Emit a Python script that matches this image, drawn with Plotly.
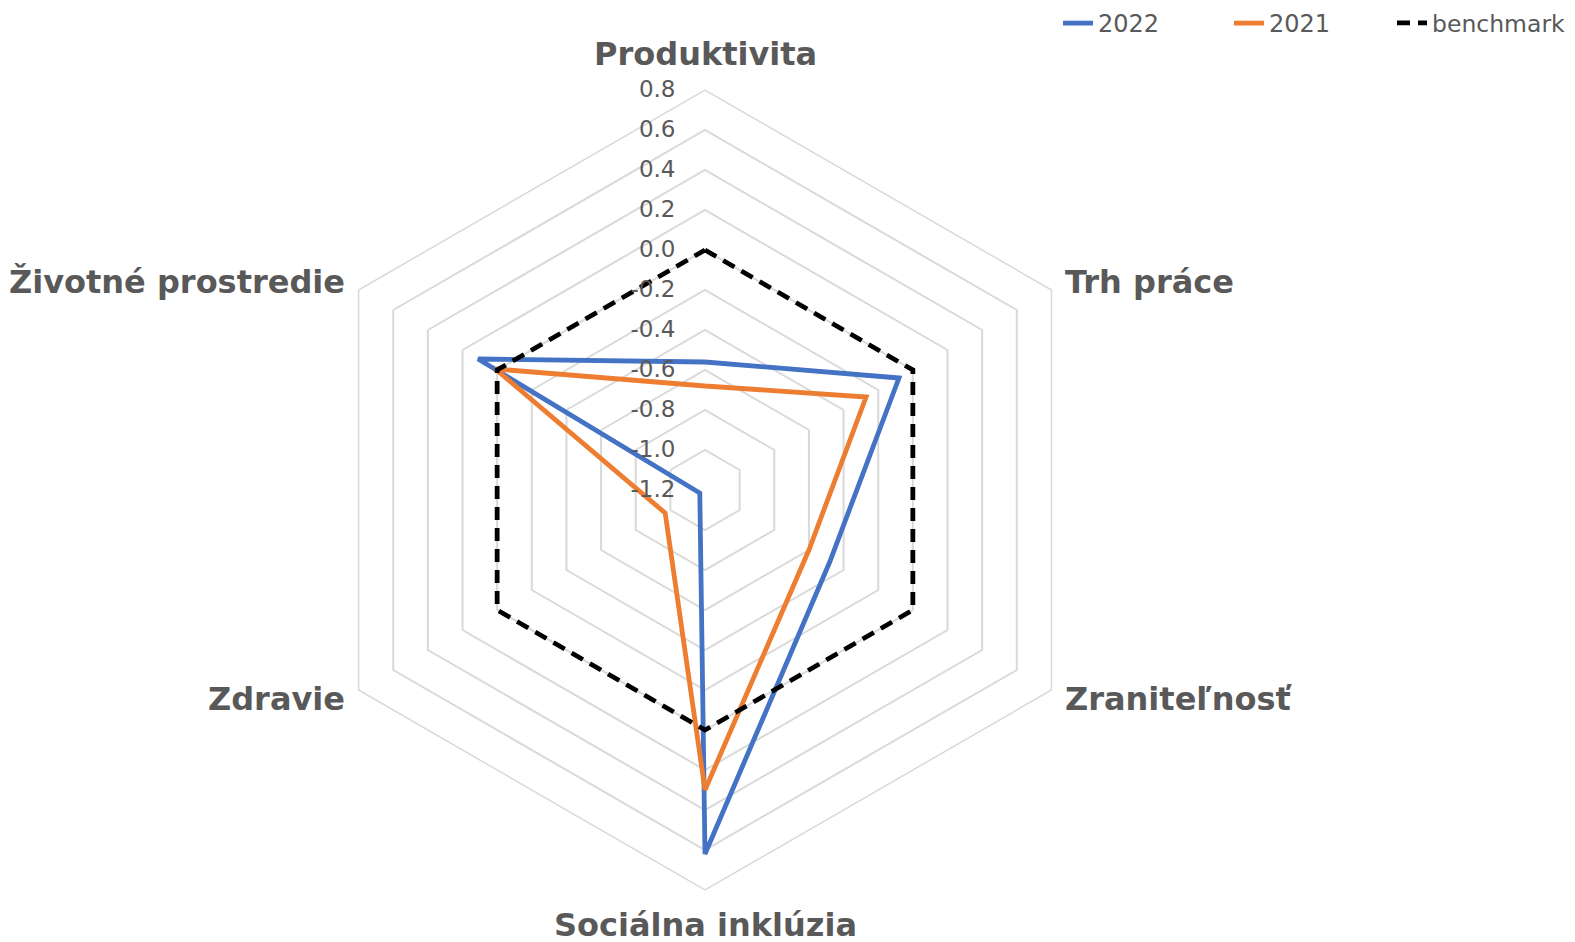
import math
import plotly.graph_objects as go

categories = ["Produktivita", "Trh práce", "Zraniteľnosť", "Sociálna inklúzia", "Zdravie", "Životné prostredie"]
values_2022 = [-0.56, -0.08, -0.48, 0.62, -1.17, 0.11]
values_2021 = [-0.68, -0.27, -0.60, 0.30, -0.97, 0.01]
values_benchmark = [0.0, 0.0, 0.0, 0.0, 0.0, 0.0]
radial_ticks = [-1.2, -1.0, -0.8, -0.6, -0.4, -0.2, 0.0, 0.2, 0.4, 0.6, 0.8]
radial_tick_labels = ["-1.2", "-1.0", "-0.8", "-0.6", "-0.4", "-0.2", "0.0", "0.2", "0.4", "0.6", "0.8"]

FONT = "DejaVu Sans"
GRAY = "#595959"
GRID = "#d9d9d9"


def closed(seq):
    return list(seq) + [seq[0]]


fig = go.Figure()
series = [
    ("2022", values_2022, dict(color="#4472C4", width=4.8), "legend"),
    ("2021", values_2021, dict(color="#ED7D31", width=4.8), "legend"),
    ("benchmark", values_benchmark, dict(color="#000000", width=4.8, dash="13px,8px"), "legend2"),
]
for name, vals, line, lg in series:
    fig.add_trace(go.Scatterpolar(
        r=closed(vals), theta=closed(categories), mode="lines",
        name=name, line=line, hoverinfo="skip", legend=lg,
    ))

W, H = 1575, 942
OFF = 8  # page body margin offset
cx, cy, R = 705 - OFF, 490 - OFF, 400


def px(x):
    return x / W


def py(y):
    return 1 - y / H


# category label placement (layout only)
annotations = []
for i, cat in enumerate(categories):
    ang = math.radians(90 - 60 * i)
    vx = cx + R * math.cos(ang)
    vy = cy - R * math.sin(ang)
    if i == 0:
        x, y, xa = vx, vy - 36, "center"
    elif i == 3:
        x, y, xa = vx, vy + 35, "center"
    elif i in (1, 2):
        x, y, xa = vx + 12, vy + (-8 if i == 1 else 9), "left"
    else:
        x, y, xa = vx - 12, vy + (-8 if i == 5 else 9), "right"
    annotations.append(dict(
        text=cat, x=px(x), y=py(y), xref="paper", yref="paper",
        xanchor=xa, yanchor="middle", showarrow=False,
        font=dict(family=FONT, size=32, color=GRAY, weight="bold"),
    ))

fig.update_layout(
    width=W, height=H,
    margin=dict(l=0, r=0, t=0, b=0, autoexpand=False),
    paper_bgcolor="white", plot_bgcolor="white",
    font=dict(family=FONT, color=GRAY),
    showlegend=True,
    legend=dict(orientation="h", x=px(1058 - OFF), xanchor="left", y=py(-7), yanchor="top",
                entrywidth=126, entrywidthmode="pixels",
                font=dict(family=FONT, size=24, color=GRAY), traceorder="normal"),
    legend2=dict(orientation="h", x=px(1392 - OFF), xanchor="left", y=py(-7), yanchor="top",
                 font=dict(family=FONT, size=23.5, color=GRAY)),
    annotations=annotations,
    polar=dict(
        domain=dict(x=[px(cx - R), px(cx + R)], y=[py(cy + R), py(cy - R)]),
        gridshape="linear",
        bgcolor="white",
        radialaxis=dict(
            range=[-1.2, 0.8], tickvals=radial_ticks, ticktext=radial_tick_labels,
            angle=90, tickangle=90, side="counterclockwise",
            showline=False, showgrid=True, gridcolor=GRID, gridwidth=1.5,
            ticks="outside", ticklen=21, tickcolor="rgba(0,0,0,0)",
            tickfont=dict(family=FONT, size=23, color=GRAY),
        ),
        angularaxis=dict(
            direction="clockwise", rotation=90,
            showgrid=False, showline=True, linecolor=GRID, linewidth=1.5,
            showticklabels=False, ticks="",
        ),
    ),
)
fig.write_html("out.html")
